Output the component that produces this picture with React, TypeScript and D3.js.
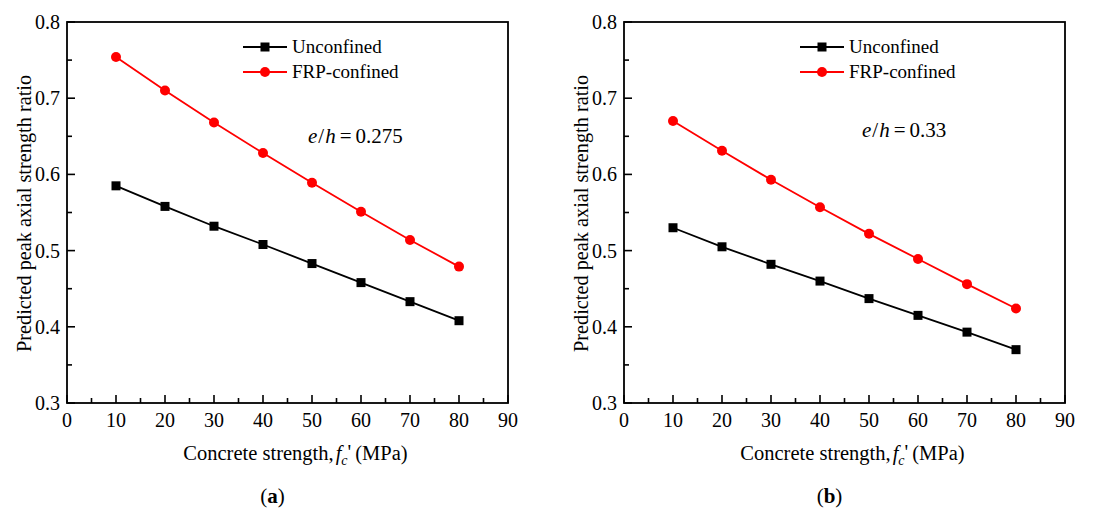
import React from "react";
import * as d3 from "d3";

const strengths = [10, 20, 30, 40, 50, 60, 70, 80];
const unconfinedA = [0.585, 0.558, 0.532, 0.508, 0.483, 0.458, 0.433, 0.408];
const frpA = [0.754, 0.71, 0.668, 0.628, 0.589, 0.551, 0.514, 0.479];
const unconfinedB = [0.53, 0.505, 0.482, 0.46, 0.437, 0.415, 0.393, 0.37];
const frpB = [0.67, 0.631, 0.593, 0.557, 0.522, 0.489, 0.456, 0.424];
const xTicks = [0, 10, 20, 30, 40, 50, 60, 70, 80, 90];
const xMinor = [5, 15, 25, 35, 45, 55, 65, 75, 85];
const yTicks = [0.3, 0.4, 0.5, 0.6, 0.7, 0.8];
const yMinor = [0.35, 0.45, 0.55, 0.65, 0.75];
const ratios = ["0.275", "0.33"];
const panelLabels = ["a", "b"];
const seriesNames = ["Unconfined", "FRP-confined"];

const FONT = '"Liberation Serif", "Times New Roman", Times, "DejaVu Serif", serif';

type PanelProps = {
  left: number;
  unconfined: number[];
  frp: number[];
  ratio: string;
  label: string;
  annX: number;
  annY: number;
};

function Panel({ left, unconfined, frp, ratio, label, annX, annY }: PanelProps) {
  const top = 22;
  const bottom = 403;
  const width = 441;
  const x = d3.scaleLinear().domain([0, 90]).range([left, left + width]);
  const y = d3.scaleLinear().domain([0.3, 0.8]).range([bottom, top]);
  const line = d3
    .line<number>()
    .x((_, i) => x(strengths[i]))
    .y((d) => y(d));
  const cx = left + width / 2;
  const legX0 = left + 176;
  const legX1 = left + 220;
  const legY = [top + 25, top + 50];
  return (
    <g style={{ fontFamily: FONT }} fill="#000">
      {/* data */}
      <path d={line(unconfined) || ""} fill="none" stroke="#000" strokeWidth={1.8} />
      <path d={line(frp) || ""} fill="none" stroke="#ff0000" strokeWidth={1.8} />
      {unconfined.map((v, i) => (
        <rect key={"u" + i} x={x(strengths[i]) - 4.5} y={y(v) - 4.5} width={9} height={9} fill="#000" />
      ))}
      {frp.map((v, i) => (
        <circle key={"f" + i} cx={x(strengths[i])} cy={y(v)} r={5} fill="#ff0000" />
      ))}
      {/* frame */}
      <rect x={left} y={top} width={width} height={bottom - top} fill="none" stroke="#000" strokeWidth={1.8} />
      {/* x ticks */}
      {xTicks.map((t) => (
        <g key={"xt" + t}>
          <line x1={x(t)} x2={x(t)} y1={bottom} y2={bottom - 8} stroke="#000" strokeWidth={1.6} />
          <text x={x(t)} y={bottom + 24} fontSize={20} textAnchor="middle">
            {t}
          </text>
        </g>
      ))}
      {xMinor.map((t) => (
        <line key={"xm" + t} x1={x(t)} x2={x(t)} y1={bottom} y2={bottom - 5} stroke="#000" strokeWidth={1.6} />
      ))}
      {/* y ticks */}
      {yTicks.map((t) => (
        <g key={"yt" + t}>
          <line x1={left} x2={left + 8} y1={y(t)} y2={y(t)} stroke="#000" strokeWidth={1.6} />
          <text x={left - 7} y={y(t)} dy="0.35em" fontSize={20} textAnchor="end">
            {t.toFixed(1)}
          </text>
        </g>
      ))}
      {yMinor.map((t) => (
        <line key={"ym" + t} x1={left} x2={left + 5} y1={y(t)} y2={y(t)} stroke="#000" strokeWidth={1.6} />
      ))}
      {/* axis titles */}
      <text
        transform={`translate(${left - 36},${(top + bottom) / 2 + 1}) rotate(-90)`}
        fontSize={20.3}
        textAnchor="middle"
      >
        Predicted peak axial strength ratio
      </text>
      <text x={cx + 8} y={460} fontSize={20.5} textAnchor="middle">
        <tspan>Concrete strength,</tspan>
        <tspan dx="2" fontStyle="italic">f</tspan>
        <tspan dx="0" dy="5" fontStyle="italic" fontSize={14}>c</tspan>
        <tspan dx="0" dy="-6">'</tspan>
        <tspan dx="4" dy="1">(MPa)</tspan>
      </text>
      {/* legend */}
      <line x1={legX0} x2={legX1} y1={legY[0]} y2={legY[0]} stroke="#000" strokeWidth={1.8} />
      <rect x={(legX0 + legX1) / 2 - 4.5} y={legY[0] - 4.5} width={9} height={9} fill="#000" />
      <text x={legX1 + 5} y={legY[0]} dy="0.33em" fontSize={19}>
        {seriesNames[0]}
      </text>
      <line x1={legX0} x2={legX1} y1={legY[1]} y2={legY[1]} stroke="#ff0000" strokeWidth={1.8} />
      <circle cx={(legX0 + legX1) / 2} cy={legY[1]} r={5} fill="#ff0000" />
      <text x={legX1 + 5} y={legY[1]} dy="0.33em" fontSize={19}>
        {seriesNames[1]}
      </text>
      {/* annotation */}
      <text x={annX} y={annY} fontSize={21}>
        <tspan fontStyle="italic">e</tspan>
        <tspan dx="1">/</tspan>
        <tspan dx="1" fontStyle="italic">h</tspan>
        <tspan dx="4">=</tspan>
        <tspan dx="4">{ratio}</tspan>
      </text>
      {/* panel label */}
      <text x={cx - 15} y={503} fontSize={21} textAnchor="middle">
        <tspan>(</tspan>
        <tspan fontWeight="bold">{label}</tspan>
        <tspan>)</tspan>
      </text>
    </g>
  );
}

export default function App() {
  return (
    <svg
      width={1094}
      height={511}
      style={{ display: "block", position: "absolute", left: 0, top: 0, background: "#fff", fontFamily: FONT }}
    >
      <rect width={1094} height={511} fill="#fff" />
      <Panel left={67} unconfined={unconfinedA} frp={frpA} ratio={ratios[0]} label={panelLabels[0]} annX={308} annY={143} />
      <Panel left={624} unconfined={unconfinedB} frp={frpB} ratio={ratios[1]} label={panelLabels[1]} annX={862} annY={137} />
    </svg>
  );
}
